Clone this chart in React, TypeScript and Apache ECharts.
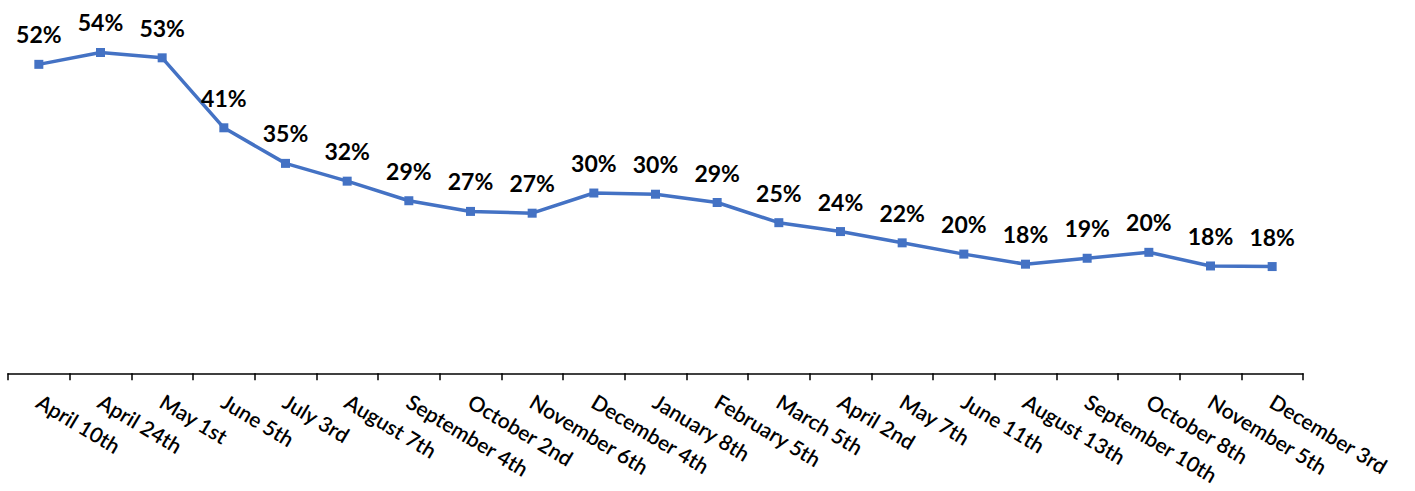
import React, { useEffect, useRef } from "react";
import * as echarts from "echarts";

const categories = [
  "April 10th", "April 24th", "May 1st", "June 5th", "July 3rd", "August 7th",
  "September 4th", "October 2nd", "November 6th", "December 4th", "January 8th",
  "February 5th", "March 5th", "April 2nd", "May 7th", "June 11th", "August 13th",
  "September 10th", "October 8th", "November 5th", "December 3rd",
];

const values = [
  52.1, 54.1, 53.2, 41.4, 35.4, 32.4, 29.1, 27.3, 27.0, 30.4, 30.2,
  28.8, 25.4, 23.9, 22.0, 20.1, 18.4, 19.4, 20.4, 18.1, 18.0,
];

export default function App() {
  const ref = useRef<HTMLDivElement>(null);
  useEffect(() => {
    if (!ref.current) return;
    const chart = echarts.init(ref.current, null, { renderer: "svg" });
    chart.setOption({
      animation: false,
      grid: { left: 8, right: 112, top: 17.5, bottom: 117.7, containLabel: false },
      xAxis: {
        type: "category",
        data: categories,
        boundaryGap: true,
        axisLine: { show: true, lineStyle: { color: "#000", width: 1.5 } },
        axisTick: {
          show: true,
          alignWithLabel: false,
          interval: 0,
          length: 7,
          lineStyle: { color: "#000", width: 1.5 },
        },
        axisLabel: {
          rotate: -31,
          interval: 0,
          margin: 26,
          color: "#000",
          fontSize: 21,
          fontWeight: 600,
          fontFamily: "Lato",
        },
      },
      yAxis: {
        type: "value",
        min: 0,
        max: 60,
        show: false,
        splitLine: { show: false },
      },
      series: [
        {
          type: "line",
          data: values,
          symbol: "rect",
          symbolSize: 9,
          lineStyle: { color: "#4472C4", width: 3.5 },
          itemStyle: { color: "#4472C4" },
          label: {
            show: true,
            position: "top",
            distance: 14,
            formatter: (p: any) => Math.round(p.value) + "%",
            color: "#000",
            fontSize: 23,
            fontWeight: "bold",
            fontFamily: "Lato",
          },
        },
      ],
    });
    return () => chart.dispose();
  }, []);
  return (
    <div
      ref={ref}
      style={{ position: "absolute", left: 0, top: 0, width: 1415, height: 491 }}
    />
  );
}
